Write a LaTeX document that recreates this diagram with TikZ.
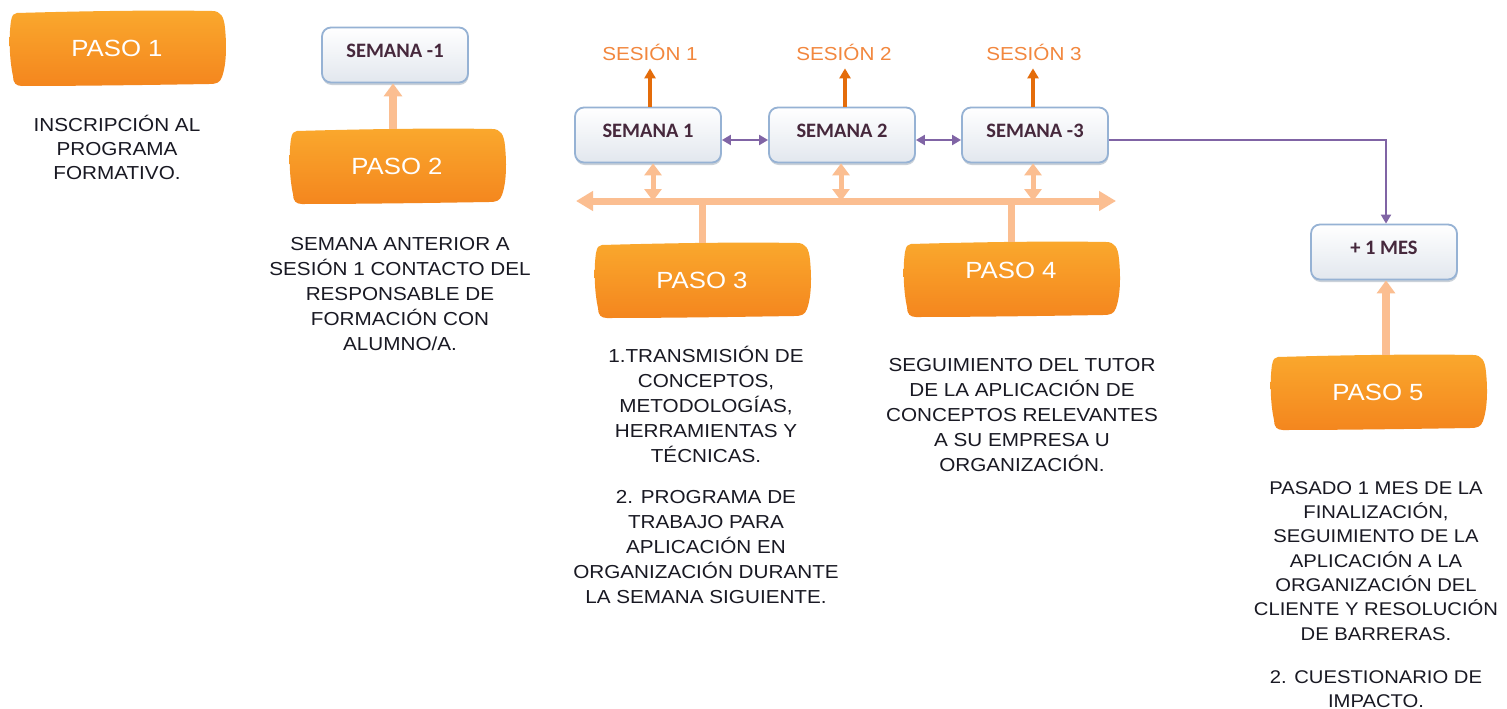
\documentclass[tikz,border=0pt]{standalone}
\usepackage{fontspec}
\setmainfont{Liberation Sans}
\newfontfamily\bodyfont[FakeStretch=1.1]{Liberation Sans}
\newfontfamily\boxfont{Carlito}
\usetikzlibrary{arrows.meta,calc,shadows}
\definecolor{pasotop}{RGB}{250,168,45}
\definecolor{pasobot}{RGB}{244,134,30}
\definecolor{peach}{RGB}{251,190,145}
\definecolor{darkor}{RGB}{228,108,10}
\definecolor{sesor}{RGB}{242,135,62}
\definecolor{violet}{RGB}{128,100,165}
\definecolor{boxline}{RGB}{150,178,212}
\definecolor{boxbot}{RGB}{226,231,238}
\definecolor{boxtext}{RGB}{70,40,60}
\definecolor{bodytext}{RGB}{25,25,35}
\newcommand\pasoblob[2]{%
  \shade[top color=pasotop, bottom color=pasobot, shift={(#1,#2)}]
    (-100,-35) .. controls (-30,-37) and (40,-38) .. (95,-37)
    .. controls (104,-37) and (107,-31) .. (108,-20)
    .. controls (110,0) and (109,18) .. (105,29)
    .. controls (103,35) and (99,36) .. (92,36)
    .. controls (30,37) and (-40,38) .. (-95,38)
    .. controls (-101,38) and (-104,35) .. (-104,28)
    .. controls (-108,10) and (-108,-14) .. (-106,-27)
    .. controls (-105,-33) and (-103,-35) .. (-100,-35) -- cycle;}
\tikzset{
  paso/.style={minimum width=214, minimum height=73, inner sep=0, text=white,
    font=\bodyfont\fontsize{23.4}{28}\selectfont},
  semabox/.style={draw=boxline, line width=1.8, rounded corners=9, top color=white,
    bottom color=boxbot, minimum width=146, minimum height=55, inner sep=0, text depth=9,
    font=\boxfont\bfseries\fontsize{20.5}{24}\selectfont, text=boxtext,
    drop shadow={shadow xshift=0.5pt, shadow yshift=-2.5pt, opacity=0.35, fill=boxline!70!black}},
  body/.style={font=\bodyfont\fontsize{18.8}{25}\selectfont, align=center, anchor=base,
    inner sep=0, text=bodytext},
  seslabel/.style={font=\bodyfont\fontsize{18.8}{22}\selectfont, text=sesor, inner sep=1, anchor=base},
  sesarrow/.style={draw=darkor, line width=3.5, -{Triangle[width=11,length=10]}, shorten >=6},
  vio/.style={draw=violet, line width=2},
  peachup/.style={draw=peach, line width=8, -{Triangle[width=18,length=13]}},
  peachdbl/.style={draw=peach, line width=5, {Triangle[width=17,length=12]}-{Triangle[width=17,length=12]}},
  peachbus/.style={draw=peach, line width=7, {Triangle[width=19,length=17]}-{Triangle[width=19,length=17]}},
  peachline/.style={draw=peach, line width=7}
}
\begin{document}
\begin{tikzpicture}[x=1pt,y=-1pt]
\fill[white] (0,0) rectangle (1507,709);
\useasboundingbox (0,0) rectangle (1507,709);
% PASO blobs
\pasoblob{117}{48}
\pasoblob{397}{166}
\pasoblob{702}{280}
\pasoblob{1011}{279}
\pasoblob{1378}{392}
\node[paso] (p1) at (117,48) {PASO 1};
\node[paso] (p2) at (397,166) {PASO 2};
\node[paso] (p3) at (702,280) {PASO 3};
\node[paso, text depth=18] (p4) at (1011,279) {PASO 4};
\node[paso] (p5) at (1378,392) {PASO 5};
% boxes
\node[semabox] (s0) at (395,55) {SEMANA -1};
\node[semabox] (s1) at (648,135) {SEMANA 1};
\node[semabox] (s2) at (842,135) {SEMANA 2};
\node[semabox] (s3) at (1035,135) {SEMANA -3};
\node[semabox] (mes) at (1384,252) {+ 1 MES};
% session labels
\node[seslabel] (ses1) at (650,61) {SESIÓN 1};
\node[seslabel] (ses2) at (844,61) {SESIÓN 2};
\node[seslabel] (ses3) at (1034,61) {SESIÓN 3};
\draw[sesarrow] ([xshift=2]s1.north) -- ([xshift=2]s1.north |- ses1.south);
\draw[sesarrow] ([xshift=3]s2.north) -- ([xshift=3]s2.north |- ses2.south);
\draw[sesarrow] ([xshift=-2]s3.north) -- ([xshift=-2]s3.north |- ses3.south);
% purple connectors
\draw[vio, {Triangle[width=10,length=9]}-{Triangle[width=10,length=9]}] ([yshift=-5]s1.east) -- ([yshift=-5]s2.west);
\draw[vio, {Triangle[width=10,length=9]}-{Triangle[width=10,length=9]}] ([yshift=-5]s2.east) -- ([yshift=-5]s3.west);
\draw[vio, -{Triangle[width=10,length=9]}] ([yshift=-5]s3.east) -| ([xshift=2]mes.north);
% bus
\coordinate (busL) at (576,201);
\coordinate (busR) at (1116,201);
\draw[peachdbl] ([xshift=5]s1.south) -- ([xshift=5]s1.south |- busL);
\draw[peachdbl] ([xshift=-1]s2.south) -- ([xshift=-1]s2.south |- busL);
\draw[peachdbl] ([xshift=-2]s3.south) -- ([xshift=-2]s3.south |- busL);
\draw[peachbus] (busL) -- (busR);
\draw[peachline] (p3.north |- busL) -- (p3.north);
\draw[peachline] (p4.north |- busL) -- (p4.north);
% up arrows
\draw[peachup] ([xshift=-2]s0.south |- p2.north) -- ([xshift=-2]s0.south);
\draw[peachup] ([xshift=2]mes.south |- p5.north) -- ([xshift=2]mes.south);
% texts (base anchor = baseline of last line)
\node[body, font=\bodyfont\fontsize{18.8}{24}\selectfont] (t1) at (117,179) {INSCRIPCIÓN AL\\PROGRAMA\\FORMATIVO.};
\node[body] (t2) at (400,350) {SEMANA ANTERIOR A\\SESIÓN 1 CONTACTO DEL\\RESPONSABLE DE\\FORMACIÓN CON\\ALUMNO/A.};
\node[body] (t3a) at (706,462) {1.TRANSMISIÓN DE\\CONCEPTOS,\\METODOLOGÍAS,\\HERRAMIENTAS Y\\TÉCNICAS.};
\node[body] (t3b) at (706,603) {2. PROGRAMA DE\\TRABAJO PARA\\APLICACIÓN EN\\ORGANIZACIÓN DURANTE\\LA SEMANA SIGUIENTE.};
\node[body] (t4) at (1022,471) {SEGUIMIENTO DEL TUTOR\\DE LA APLICACIÓN DE\\CONCEPTOS RELEVANTES\\A SU EMPRESA U\\ORGANIZACIÓN.};
\node[body, font=\bodyfont\fontsize{18.4}{24.3}\selectfont] (t5a) at (1376,640) {PASADO 1 MES DE LA\\FINALIZACIÓN,\\SEGUIMIENTO DE LA\\APLICACIÓN A LA\\ORGANIZACIÓN DEL\\CLIENTE Y RESOLUCIÓN\\DE BARRERAS.};
\node[body, font=\bodyfont\fontsize{18.4}{24}\selectfont] (t5b) at (1376,707) {2. CUESTIONARIO DE\\IMPACTO.};
\end{tikzpicture}
\end{document}
